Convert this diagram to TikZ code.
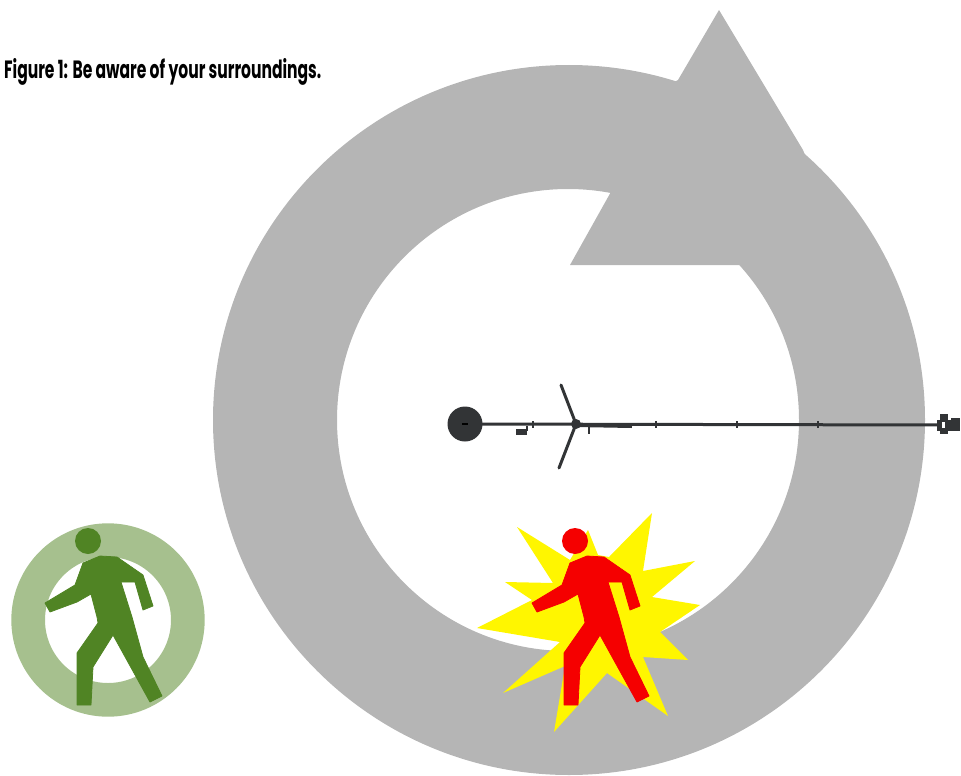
\documentclass[tikz,border=0pt]{standalone}
\usepackage{fontspec}
\usepackage{xcolor}
\usepackage{tikz}
\newfontfamily\captionfont[FakeStretch=0.622]{Poppins}
\definecolor{ringgray}{RGB}{181,181,181}
\definecolor{rodgray}{RGB}{50,52,54}
\definecolor{safegreen}{RGB}{80,132,36}
\definecolor{safering}{RGB}{166,192,142}
\definecolor{blastyellow}{RGB}{255,246,0}
\definecolor{hitred}{RGB}{245,0,0}
\newcommand{\walker}[3]{%
  \fill[#3] (#1+88,#2+541) circle (13);
  \filldraw[#3, line width=0.8pt, line join=round] (#1+45,#2+603) -- (#1+50,#2+612) -- (#1+77,#2+602) -- (#1+91,#2+594)
    -- (#1+97,#2+617) -- (#1+98,#2+623) -- (#1+77,#2+653) -- (#1+77,#2+705)
    -- (#1+91,#2+705) -- (#1+93,#2+667) -- (#1+113,#2+635) -- (#1+150,#2+702)
    -- (#1+162,#2+696) -- (#1+143,#2+657) -- (#1+132,#2+617) -- (#1+121,#2+582)
    -- (#1+135,#2+582) -- (#1+143,#2+610) -- (#1+153,#2+606) -- (#1+143,#2+575)
    -- (#1+117,#2+557) -- (#1+100,#2+556) -- (#1+83,#2+563) -- (#1+75,#2+585) -- cycle;
}
\begin{document}
\begin{tikzpicture}[
  x=1pt, y=-1pt,
  rod/.style={line width=3pt, draw=rodgray},
  arm/.style={rod, line cap=round},
  tick/.style={line width=1.4pt, draw=rodgray}
]
  \useasboundingbox (0,0) rectangle (961,776);
  % big circular arrow
  \fill[ringgray, even odd rule] (569,420) ellipse (356 and 355) (568,420) circle (231);
  \fill[ringgray] (719,10) -- (803,150) -- (840,240) -- (745,265) -- (570,265)
    -- (612,190) -- (600,120) -- (678,80) -- cycle;
  \node[anchor=base west, inner sep=0pt, font=\captionfont\bfseries\fontsize{25}{27}\selectfont] (caption) at (4,78)
    {Figure 1: Be aware of your surroundings.};
  % rod and rotor
  \draw[rod] (465,424) -- (945,425);
  \draw[line width=4pt, draw=rodgray] (576,425) -- (632,426);
  \fill[rodgray] (465,424) circle (17.5);
  \fill[black] (462,423) rectangle (468,425);
  \draw[arm] (576,424) -- (561,385);
  \draw[arm] (576,424) -- (559,468);
  \fill[rodgray] (576,424) circle (5);
  \fill[rodgray] (516,429) rectangle (527,435);
  \draw[tick] (527,426) -- (527,431);
  \draw[tick] (589,426) -- (589,434);
  \foreach \tx in {533,656,737,818} {
    \draw[tick] (\tx,421) -- (\tx,428);
  }
  \fill[rodgray] (940,414) rectangle (948,434);
  \fill[rodgray] (937,420) rectangle (951,431);
  \fill[rodgray] (951,418) rectangle (960,431);
  \fill[white] (942,422) rectangle (945,428);
  % safe walker
  \fill[safering, even odd rule] (108,620) circle (96.7) (108,620) circle (63);
  \walker{0}{0}{safegreen}
  % walker in the blast
  \fill[blastyellow] (652,513) -- (643,571) -- (695,561) -- (652,597) -- (700,605)
    -- (660,632) -- (688,660) -- (643,657) -- (668,716) -- (607,673) -- (554,732)
    -- (565,666) -- (503,693) -- (560,642) -- (477,628) -- (532,600) -- (505,582)
    -- (553,583) -- (517,527) -- (570,560) -- (588,530) -- (598,555) -- (609,557) -- cycle;
  \walker{487}{0}{hitred}
\end{tikzpicture}
\end{document}
